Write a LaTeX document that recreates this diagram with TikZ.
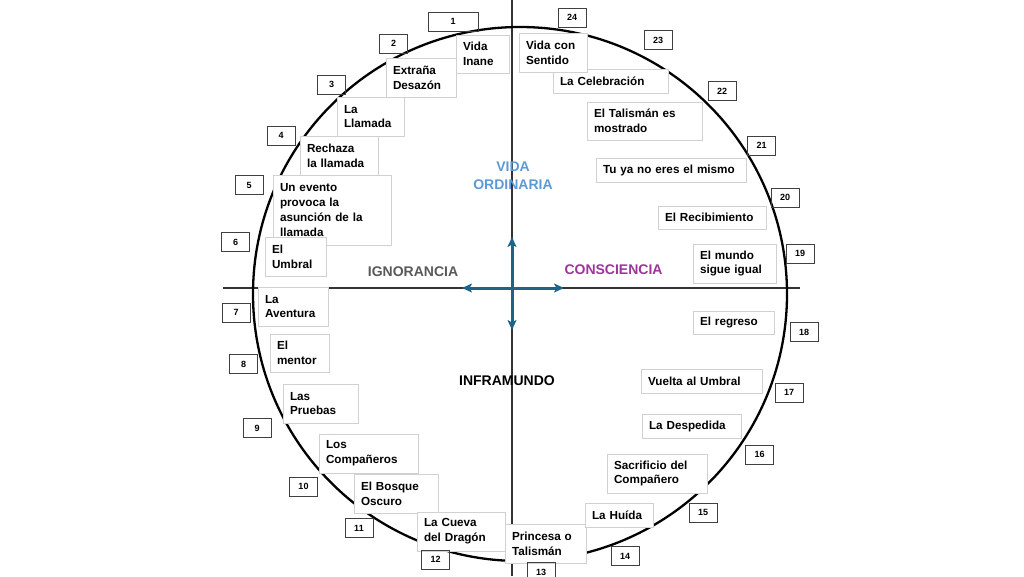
\documentclass[tikz,border=0pt]{standalone}
\usepackage{fontspec}
\setmainfont{Liberation Sans}
\usetikzlibrary{arrows.meta}
\definecolor{azulvida}{HTML}{5B9BD5}
\definecolor{moradocon}{HTML}{A0329C}
\definecolor{grisign}{HTML}{595959}
\definecolor{azulflecha}{HTML}{1F6487}
\begin{document}
\begin{tikzpicture}[x=1pt,y=-1pt,
		etapa/.style={draw=black!18, fill=white, align=left, inner xsep=7pt, font=\fontsize{11.7}{14.8}\selectfont\bfseries},
		numero/.style={draw=black!75, line width=0.9pt, minimum width=28pt, minimum height=19pt, inner sep=0pt, font=\fontsize{9}{10}\selectfont\bfseries},
		titulo/.style={align=center, font=\fontsize{14}{18}\selectfont\bfseries},
		>={Stealth[length=10pt,width=9pt,inset=2.5pt]}]
	\useasboundingbox (0,0) rectangle (1024,576);
	% ejes y circulo
	\coordinate (O) at (512,288);
	\draw[black!80, line width=2.3pt] (223,288) -- (800,288);
	\draw[black!80, line width=2.3pt] (512,0) -- (512,576);
	\draw[line width=2.3pt] (520,294) circle (267);
	% flechas del centro
	\coordinate (arriba) at (512,237);
	\coordinate (abajo) at (512,330);
	\coordinate (izq) at (462,288);
	\coordinate (der) at (564,288);
	\foreach \p in {arriba,abajo,izq,der}{
			\draw[azulflecha, line width=3pt, ->] (O) -- (\p);
		}
	% etapas
	\foreach \n/\x/\y/\w/\h/\t in {
			1/482.5/54/53/38/{Vida\\Inane},
			2/421/77.5/70/39/{Extraña\\Desazón},
			3/370.5/116.5/67/39/{La\\Llamada},
			4/339/155.5/78/39/{Rechaza\\la llamada},
			5/332/210/118/70/{Un evento\\provoca la\\asunción de la\\llamada},
			6/295.5/256.5/61/39/{El\\Umbral},
			7/293/306.5/70/39/{La\\Aventura},
			8/299.5/353/59/38/{El\\mentor},
			9/320.5/403.5/75/39/{Las\\Pruebas},
			10/368.5/453.5/99/39/{Los\\Compañeros},
			11/396/493.5/84/39/{El Bosque\\Oscuro},
			12/461/531.5/88/39/{La Cueva\\del Dragón},
			13/545.5/543.5/81/39/{Princesa o\\Talismán},
			14/619/515/68/24/{La Huída},
			15/657/473.5/100/39/{Sacrificio del\\Compañero},
			16/691.5/426/99/24/{La Despedida},
			17/701.5/381/121/24/{Vuelta al Umbral},
			18/733.5/322.5/81/23/{El regreso},
			19/734.5/263.5/83/39/{El mundo\\sigue igual},
			20/712/217.5/108/23/{El Recibimiento},
			21/671/170/150/24/{Tu ya no eres el mismo},
			22/644.5/121/115/38/{El Talismán es\\mostrado},
			23/610.5/81/115/24/{La Celebración},
			24/553/52.5/68/39/{Vida con\\Sentido}}{
			\pgfmathsetmacro\tw{\w-14}
			\node[etapa, minimum width=\w pt, minimum height=\h pt, text width=\tw pt] (e\n) at (\x,\y) {\t};
		}
	% numeros
	\foreach \n/\x/\y in {2/393.5/43.5, 3/331.5/84.5, 4/281/135.5, 5/249/185, 6/235.5/242,
			7/236/312.5, 8/243.5/364, 9/257/428, 10/303.5/486.5, 11/359/528, 12/435.5/559.5,
			13/541/572, 14/625/556, 15/703/512.5, 16/759.5/454.5, 17/789/392.5, 18/804/332,
			19/800/253.5, 20/785/197.5, 21/761.5/145.5, 22/722/91, 23/658/40, 24/572/17.5}{
			\node[numero] (n\n) at (\x,\y) {\n};
		}
	\node[numero, minimum width=50pt] (n1) at (453,21.5) {1};
	% cuadrantes
	\node[titulo, text=azulvida] (vida) at (513,176) {VIDA\\ORDINARIA};
	\node[titulo, text=grisign] (ignorancia) at (413,272) {IGNORANCIA};
	\node[titulo, text=moradocon] (consciencia) at (613.5,270) {CONSCIENCIA};
	\node[titulo] (inframundo) at (507,381) {INFRAMUNDO};
\end{tikzpicture}
\end{document}
